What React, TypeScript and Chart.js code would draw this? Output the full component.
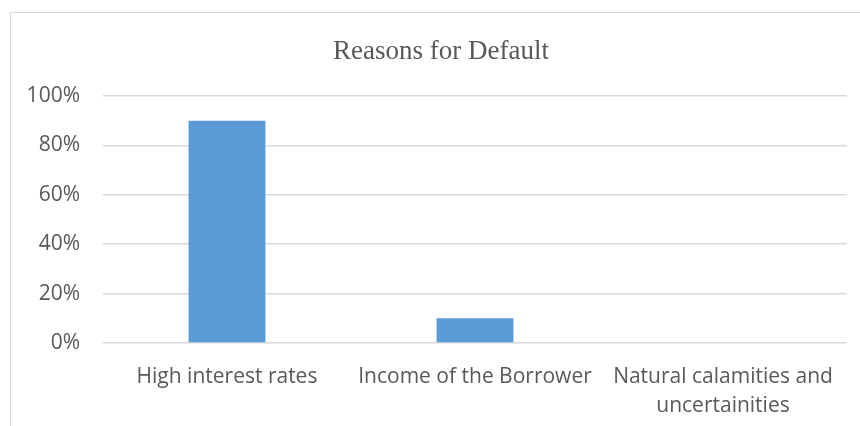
import React, { useEffect, useRef } from "react";
import { Chart, registerables } from "chart.js";

Chart.register(...registerables);

const categories: (string | string[])[] = [
  "High interest rates",
  "Income of the Borrower",
  ["Natural calamities and", "uncertainities"],
];
const values: number[] = [90, 10, 0];
const yTicks: number[] = [0, 20, 40, 60, 80, 100];
const titleText = "Reasons for Default";

const titlePlugin = {
  id: "centerTitle",
  afterDraw(chart: any) {
    const ctx = chart.ctx;
    ctx.save();
    ctx.fillStyle = "#595959";
    ctx.font = "27px 'Liberation Serif', 'Times New Roman', serif";
    ctx.textAlign = "center";
    ctx.textBaseline = "middle";
    ctx.fillText(titleText, 441, 52);
    ctx.restore();
  },
};

export default function App() {
  const ref = useRef<HTMLCanvasElement | null>(null);

  useEffect(() => {
    if (!ref.current) return;
    const chart = new Chart(ref.current, {
      type: "bar",
      data: {
        labels: categories,
        datasets: [
          {
            data: values,
            backgroundColor: "#5b9bd5",
            borderWidth: 0,
            categoryPercentage: 1,
            barPercentage: 0.31,
          },
        ],
      },
      plugins: [titlePlugin],
      options: {
        responsive: false,
        animation: false,
        layout: { padding: { left: 0, right: 13, top: 96, bottom: 0 } },
        plugins: {
          legend: { display: false },
          tooltip: { enabled: false },
          title: { display: false },
        },
        scales: {
          x: {
            grid: { display: false },
            border: { display: false },
            ticks: {
              color: "#595959",
              font: { family: "'Open Sans', sans-serif", size: 21, lineHeight: 1.35 },
              padding: 12,
              maxRotation: 0,
              autoSkip: false,
            },
            afterFit: (scale: any) => {
              scale.height = 83;
            },
          },
          y: {
            min: 0,
            max: 100,
            afterBuildTicks: (scale: any) => {
              scale.ticks = yTicks.map((v) => ({ value: v }));
            },
            grid: { color: "#d9d9d9", lineWidth: 1.5, drawTicks: false },
            border: { display: false },
            ticks: {
              color: "#595959",
              font: { family: "'Open Sans', sans-serif", size: 21 },
              padding: 23,
              callback: (v: any) => v + "%",
            },
            afterFit: (scale: any) => {
              scale.width = 103;
            },
          },
        },
      },
    });
    return () => chart.destroy();
  }, []);

  return (
    <div style={{ position: "fixed", left: 0, top: 0, width: 860, height: 426, background: "#fff" }}>
      <div
        style={{
          position: "absolute",
          left: 10,
          top: 12,
          right: -5,
          bottom: -5,
          borderLeft: "1px solid #d9d9d9",
          borderTop: "1px solid #d9d9d9",
        }}
      />
      <canvas ref={ref} width={860} height={426} style={{ position: "absolute", left: 0, top: 0 }} />
    </div>
  );
}
